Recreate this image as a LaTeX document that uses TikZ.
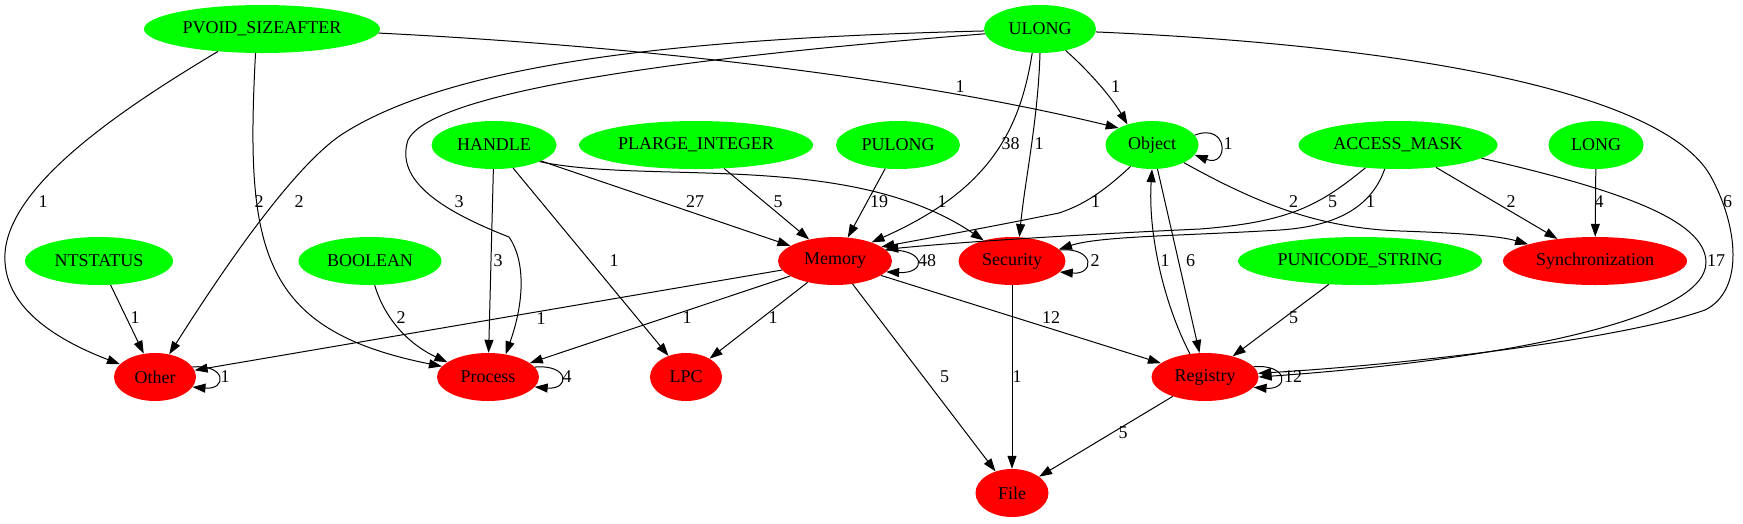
\documentclass[tikz,border=0pt]{standalone}
\usepackage{fontspec}
\setmainfont{Liberation Serif}
\usetikzlibrary{shapes.geometric,arrows.meta}
\definecolor{gcol}{RGB}{0,255,0}
\definecolor{rcol}{RGB}{255,0,0}
\newcommand\lblfont{\fontsize{18}{20}\selectfont}
\begin{document}
\begin{tikzpicture}[x=1pt,y=-1pt,
  gn/.style={ellipse, fill=gcol, minimum height=48pt, inner sep=0pt, font=\lblfont},
  rn/.style={ellipse, fill=rcol, minimum height=48pt, inner sep=0pt, font=\lblfont},
  edge/.style={line width=1pt, -{Triangle[length=13pt,width=9pt]}},
  lab/.style={inner sep=0pt, font=\lblfont}]
\fill[white] (0,0) rectangle (1743,523);
\useasboundingbox (0,0) rectangle (1743,523);
% nodes
\node[gn, minimum width=236pt] (PVOID) at (262,29) {PVOID\_SIZEAFTER};
\node[gn, minimum width=112pt] (ULONG) at (1040,29) {ULONG};
\node[gn, minimum width=125pt] (HANDLE) at (494,145) {HANDLE};
\node[gn, minimum width=234pt] (PLARGE) at (696,145) {PLARGE\_INTEGER};
\node[gn, minimum width=124pt] (PULONG) at (898,145) {PULONG};
\node[gn, minimum width=93pt] (Object) at (1152,145) {Object};
\node[gn, minimum width=199pt] (ACCESS) at (1398,145) {ACCESS\_MASK};
\node[gn, minimum width=95pt] (LONG) at (1596,145) {LONG};
\node[gn, minimum width=148pt] (NTSTATUS) at (99,261) {NTSTATUS};
\node[gn, minimum width=143pt] (BOOLEAN) at (370,261) {BOOLEAN};
\node[rn, minimum width=114pt] (Memory) at (835,261) {Memory};
\node[rn, minimum width=107pt] (Security) at (1012,261) {Security};
\node[gn, minimum width=244pt] (PUNICODE) at (1360,261) {PUNICODE\_STRING};
\node[rn, minimum width=184pt] (Sync) at (1595,261) {Synchronization};
\node[rn, minimum width=82pt] (Other) at (155,377) {Other};
\node[rn, minimum width=102pt] (Process) at (488,377) {Process};
\node[rn, minimum width=72pt] (LPC) at (686,377) {LPC};
\node[rn, minimum width=107pt] (Registry) at (1205,377) {Registry};
\node[rn, minimum width=73pt] (File) at (1012,493) {File};
% edges
\draw[edge] (PVOID.-153) .. controls (120,110) and (0,190) .. (5,262) .. controls (8,315) and (70,345) .. (Other.160);
\draw[edge] (PVOID.-105) .. controls (245,250) and (260,330) .. (Process.167);
\draw[edge] (PVOID.-2) .. controls (620,45) and (900,75) .. (Object.153);
\draw[edge] (ULONG.-178) .. controls (700,38) and (460,60) .. (344,133) .. controls (290,167) and (210,290) .. (Other.58);
\draw[edge] (ULONG.-175) .. controls (650,60) and (430,95) .. (408,140) .. controls (395,180) and (440,210) .. (509,237) .. controls (525,260) and (525,300) .. (Process.52);
\draw[edge] (ULONG.-108) .. controls (1020,130) and (990,190) .. (Memory.27);
\draw[edge] (ULONG.-90) .. controls (1038,120) and (1025,180) .. (Security.73);
\draw[edge] (ULONG.-40) .. controls (1090,72) and (1112,98) .. (Object.140);
\draw[edge] (ULONG.-3) .. controls (1400,45) and (1660,90) .. (1710,175) .. controls (1738,225) and (1745,290) .. (1705,310) .. controls (1620,340) and (1400,365) .. (Registry.4);
\draw[edge] (ACCESS.-9) .. controls (1620,190) and (1705,220) .. (1706,262) .. controls (1707,320) and (1500,360) .. (Registry.0);
\draw[edge] (HANDLE) -- (Process);
\draw[edge] (HANDLE) -- (LPC);
\draw[edge] (HANDLE) -- (Memory);
\draw[edge] (HANDLE.-20) .. controls (650,185) and (850,150) .. (Security.144);
\draw[edge] (PLARGE) -- (Memory);
\draw[edge] (PULONG) -- (Memory);
\draw[edge] (Object.13) .. controls (1229,122) and (1229,168) .. (Object.-13);
\draw[edge] (Object.-135) .. controls (1100,195) and (1080,206) .. (1059,213) .. controls (1000,225) and (930,238) .. (Memory.17);
\draw[edge] (Object.-29) .. controls (1260,205) and (1320,228) .. (1400,231) .. controls (1460,233) and (1500,236) .. (Sync.166);
\draw[edge] (Object) -- (Registry);
\draw[edge] (Registry.123) .. controls (1162,300) and (1148,230) .. (Object.-90);
\draw[edge] (ACCESS.-145) .. controls (1320,205) and (1290,222) .. (1200,229) .. controls (1050,236) and (950,243) .. (Memory.13);
\draw[edge] (ACCESS.-119) .. controls (1372,205) and (1340,226) .. (1280,230) .. controls (1180,236) and (1100,236) .. (Security.14);
\draw[edge] (ACCESS) -- (Sync);
\draw[edge] (LONG) -- (Sync);
\draw[edge] (NTSTATUS) -- (Other);
\draw[edge] (BOOLEAN.-79) .. controls (385,320) and (410,345) .. (Process.160);
\draw[edge] (Memory.12) .. controls (927,248) and (927,274) .. (Memory.-12);
\draw[edge] (Security.13) .. controls (1095,247) and (1095,275) .. (Security.-13);
\draw[edge] (Memory) -- (Other);
\draw[edge] (Memory) -- (Process);
\draw[edge] (Memory) -- (LPC);
\draw[edge] (Memory) -- (Registry);
\draw[edge] (Memory) -- (File);
\draw[edge] (Security) -- (File);
\draw[edge] (PUNICODE) -- (Registry);
\draw[edge] (Registry) -- (File);
\draw[edge] (Other.15) .. controls (227,364) and (227,390) .. (Other.-15);
\draw[edge] (Process.12) .. controls (570,364) and (570,390) .. (Process.-12);
\draw[edge] (Registry.12) .. controls (1289,364) and (1289,390) .. (Registry.-12);
% labels
\node[lab] (l01) at (43,202) {1};
\node[lab] (l02) at (259,202) {2};
\node[lab] (l03) at (299,202) {2};
\node[lab] (l04) at (459,202) {3};
\node[lab] (l05) at (960,87) {1};
\node[lab] (l06) at (1115.5,87) {1};
\node[lab] (l07) at (1010.6,144) {38};
\node[lab] (l08) at (1039,144) {1};
\node[lab] (l09) at (695,202) {27};
\node[lab] (l10) at (778,202) {5};
\node[lab] (l11) at (879,202) {19};
\node[lab] (l12) at (942,202) {1};
\node[lab] (l13) at (1095.6,202) {1};
\node[lab] (l14) at (1228,144) {1};
\node[lab] (l15) at (1293.7,202) {2};
\node[lab] (l16) at (1332.7,202) {5};
\node[lab] (l17) at (1370.5,202) {1};
\node[lab] (l18) at (1511,202) {2};
\node[lab] (l19) at (1599,202) {4};
\node[lab] (l20) at (1727.5,202) {6};
\node[lab] (l21) at (1165,261) {1};
\node[lab] (l22) at (1190.5,261) {6};
\node[lab] (l23) at (1716,261) {17};
\node[lab] (l24) at (1293.7,318) {5};
\node[lab] (l25) at (1293,377) {12};
\node[lab] (l26) at (927,261) {48};
\node[lab] (l27) at (1095,261) {2};
\node[lab] (l28) at (773,318) {1};
\node[lab] (l29) at (687,318) {1};
\node[lab] (l30) at (1051,318) {12};
\node[lab] (l31) at (944.7,377) {5};
\node[lab] (l32) at (1017,377) {1};
\node[lab] (l33) at (1123,433) {5};
\node[lab] (l34) at (614,261) {1};
\node[lab] (l35) at (498,261) {3};
\node[lab] (l36) at (135,318) {1};
\node[lab] (l37) at (401,318) {2};
\node[lab] (l38) at (225,377) {1};
\node[lab] (l39) at (567,377) {4};
\node[lab] (l40) at (541,319) {1};
\end{tikzpicture}
\end{document}
